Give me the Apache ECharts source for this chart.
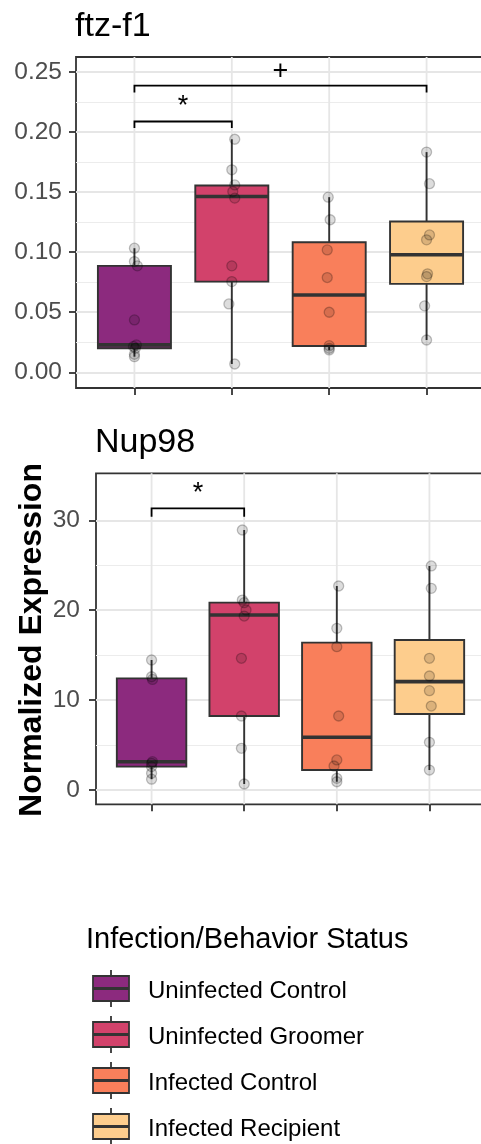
<!DOCTYPE html>
<html>
<head>
<meta charset="utf-8">
<script src="https://cdn.jsdelivr.net/npm/echarts@6/dist/echarts.min.js"></script>
<style>
  html, body { margin: 0; padding: 0; background: #ffffff; }
  #chart { width: 481px; height: 1144px; }
</style>
</head>
<body>
<div id="chart"></div>
<script>
// ---- data ----
const groups = ['Uninfected Control', 'Uninfected Groomer', 'Infected Control', 'Infected Recipient'];
const geneTitles = ['ftz-f1', 'Nup98'];
const yAxisTitle = 'Normalized Expression';
const legendTitle = 'Infection/Behavior Status';

// box statistics per group: [lower whisker, Q1, median, Q3, upper whisker]
const ftzBoxes = [
  [0.0130, 0.0200, 0.0228, 0.0886, 0.1033],
  [0.0069, 0.0755, 0.1463, 0.1555, 0.1940],
  [0.0186, 0.0219, 0.0644, 0.1083, 0.1458],
  [0.0269, 0.0736, 0.0978, 0.1255, 0.1833]
];
const nupBoxes = [
  [1.20, 2.60, 3.15, 12.42, 14.46],
  [0.67, 8.23, 19.47, 20.84, 28.92],
  [0.92, 2.22, 5.86, 16.39, 22.69],
  [2.22, 8.45, 12.05, 16.69, 24.92]
];

// individual samples, [jittered group position, value]
const ftzUninfControl = [[1.00, 0.1033], [1.00, 0.0922], [1.03, 0.0886], [1.00, 0.0436], [1.02, 0.0228], [0.99, 0.0215], [1.01, 0.0200], [1.00, 0.0150], [1.00, 0.0130]];
const ftzUninfGroomer = [[2.03, 0.1940], [2.00, 0.1686], [2.03, 0.1560], [2.01, 0.1505], [2.03, 0.1450], [2.00, 0.0886], [2.00, 0.0755], [1.97, 0.0569], [2.03, 0.0069]];
const ftzInfControl = [[2.99, 0.1458], [3.01, 0.1270], [2.98, 0.1019], [2.98, 0.0789], [3.00, 0.0500], [3.00, 0.0222], [3.00, 0.0200], [3.00, 0.0186]];
const ftzInfRecipient = [[4.00, 0.1833], [4.03, 0.1570], [4.03, 0.1144], [4.00, 0.1103], [4.01, 0.0820], [4.00, 0.0797], [3.98, 0.0553], [4.00, 0.0269]];

const nupUninfControl = [[1.00, 14.46], [1.00, 12.60], [1.01, 12.30], [1.01, 3.15], [1.00, 2.97], [1.00, 2.60], [1.00, 1.86], [1.00, 1.20]];
const nupUninfGroomer = [[1.98, 28.92], [1.98, 21.13], [2.00, 20.84], [2.02, 20.02], [2.00, 19.35], [1.97, 14.65], [1.97, 8.23], [1.97, 4.64], [2.00, 0.67]];
const nupInfControl = [[3.02, 22.69], [3.00, 17.98], [3.00, 15.94], [3.02, 8.23], [3.00, 3.34], [2.97, 2.67], [3.00, 1.30], [3.00, 0.92]];
const nupInfRecipient = [[4.02, 24.92], [4.02, 22.43], [4.00, 14.65], [4.00, 12.68], [4.00, 11.05], [4.02, 9.34], [4.00, 5.30], [4.00, 2.22]];

// y axis ticks
const ftzTicks = [0, 0.05, 0.10, 0.15, 0.20, 0.25];
const ftzTickLabels = ['0.00', '0.05', '0.10', '0.15', '0.20', '0.25'];
const nupTicks = [0, 10, 20, 30];
const nupTickLabels = ['0', '10', '20', '30'];

// significance brackets: [from group, to group, bar value, leg end value]
const ftzBrackets = [[1, 2, 0.2088, 0.2033], [1, 4, 0.2386, 0.2330]];
const ftzBracketLabels = ['*', '+'];
const nupBrackets = [[1, 2, 31.33, 30.40]];
const nupBracketLabels = ['*'];

// ---- styles ----
const groupColors = ['#8C2A7E', '#D2426B', '#F97F5B', '#FDCD8D'];
const FONT = "'Liberation Sans', Arial, sans-serif";
const INK = '#333333';

const panels = [
  {
    title: geneTitles[0], boxes: ftzBoxes,
    points: [ftzUninfControl, ftzUninfGroomer, ftzInfControl, ftzInfRecipient],
    ticks: ftzTicks, tickLabels: ftzTickLabels,
    brackets: ftzBrackets, bracketLabels: ftzBracketLabels,
    frame: { left: 76, top: 57, width: 409, height: 331 },
    plot: { top: 72, height: 300.3 },
    labelMargin: 14, titlePos: [75, 26.5]
  },
  {
    title: geneTitles[1], boxes: nupBoxes,
    points: [nupUninfControl, nupUninfGroomer, nupInfControl, nupInfRecipient],
    ticks: nupTicks, tickLabels: nupTickLabels,
    brackets: nupBrackets, bracketLabels: nupBracketLabels,
    frame: { left: 96, top: 473.3, width: 389, height: 331 },
    plot: { top: 520.3, height: 269.7 },
    labelMargin: 16, titlePos: [95, 443]
  }
];

const grid = [], xAxis = [], yAxis = [], series = [], graphic = [];

panels.forEach((p) => {
  const fIdx = grid.length;       // framed panel (border, x ticks, vertical grid)
  grid.push({
    left: p.frame.left, top: p.frame.top, width: p.frame.width, height: p.frame.height,
    show: true, borderColor: INK, borderWidth: 1.8, backgroundColor: 'transparent',
    containLabel: false, outerBoundsMode: 'none'
  });
  const dIdx = grid.length;       // value region spanning the tick range
  grid.push({
    left: p.frame.left, top: p.plot.top, width: p.frame.width, height: p.plot.height,
    show: false, containLabel: false, outerBoundsMode: 'none'
  });

  xAxis.push({
    gridIndex: fIdx, type: 'value', min: 0.4, max: 4.6,
    axisLine: { show: false },
    axisTick: { show: true, customValues: [1, 2, 3, 4], length: 7, lineStyle: { color: INK, width: 1.8 } },
    axisLabel: { show: false }, splitLine: { show: false }
  });
  yAxis.push({ gridIndex: fIdx, type: 'value', min: 0, max: 1, show: false });

  xAxis.push({ gridIndex: dIdx, type: 'value', min: 0.4, max: 4.6, show: false });
  const step = p.ticks[1] - p.ticks[0];
  yAxis.push({
    gridIndex: dIdx, type: 'value', min: p.ticks[0], max: p.ticks[p.ticks.length - 1], interval: step,
    axisLine: { show: false },
    axisTick: { show: true, length: 7, lineStyle: { color: INK, width: 1.8 } },
    axisLabel: {
      show: true, margin: p.labelMargin, fontSize: 24.5, color: '#4d4d4d', fontFamily: FONT,
      formatter: (v, i) => p.tickLabels[i]
    },
    splitLine: { show: true, lineStyle: { color: '#e6e6e6', width: 1.8 } },
    minorTick: { show: false, splitNumber: 2 },
    minorSplitLine: { show: true, lineStyle: { color: '#ececec', width: 1.1 } }
  });

  // vertical grid lines at group positions
  series.push({
    type: 'custom', xAxisIndex: fIdx, yAxisIndex: fIdx, z: 1, silent: true,
    data: groups.map((g, i) => [i + 1]),
    renderItem: (params, api) => {
      const a = api.coord([api.value(0), 0]);
      const b = api.coord([api.value(0), 1]);
      return { type: 'line', shape: { x1: a[0], y1: a[1], x2: b[0], y2: b[1] },
               style: { stroke: '#e6e6e6', lineWidth: 1.8 } };
    }
  });

  // boxes with whiskers
  series.push({
    type: 'custom', xAxisIndex: dIdx, yAxisIndex: dIdx, z: 2, silent: true,
    data: p.boxes.map((b, i) => [i + 1].concat(b)),
    encode: { x: 0, y: [1, 2, 3, 4, 5] },
    renderItem: (params, api) => {
      const x = api.value(0);
      const lo = api.coord([x, api.value(1)]);
      const q1 = api.coord([x, api.value(2)]);
      const md = api.coord([x, api.value(3)]);
      const q3 = api.coord([x, api.value(4)]);
      const hi = api.coord([x, api.value(5)]);
      const w = api.size([0.75, 0])[0];
      const cx = md[0];
      const ln = { stroke: INK, lineWidth: 1.9 };
      return {
        type: 'group',
        children: [
          { type: 'line', shape: { x1: cx, y1: hi[1], x2: cx, y2: q3[1] }, style: ln },
          { type: 'line', shape: { x1: cx, y1: q1[1], x2: cx, y2: lo[1] }, style: ln },
          { type: 'rect', shape: { x: cx - w / 2, y: q3[1], width: w, height: q1[1] - q3[1] },
            style: { fill: groupColors[params.dataIndex], stroke: INK, lineWidth: 1.9 } },
          { type: 'line', shape: { x1: cx - w / 2, y1: md[1], x2: cx + w / 2, y2: md[1] },
            style: { stroke: INK, lineWidth: 3.6 } }
        ]
      };
    }
  });

  // samples
  p.points.forEach((pts) => {
    series.push({
      type: 'scatter', xAxisIndex: dIdx, yAxisIndex: dIdx, z: 3, silent: true,
      symbol: 'circle', symbolSize: 10,
      itemStyle: { color: 'rgba(0,0,0,0.17)', borderColor: 'rgba(0,0,0,0.30)', borderWidth: 1.3 },
      data: pts
    });
  });

  // significance brackets
  series.push({
    type: 'custom', xAxisIndex: dIdx, yAxisIndex: dIdx, z: 4, silent: true, clip: false,
    data: p.brackets,
    renderItem: (params, api) => {
      const a = api.coord([api.value(0), api.value(2)]);
      const b = api.coord([api.value(1), api.value(2)]);
      const legY = api.coord([api.value(0), api.value(3)])[1];
      return {
        type: 'group',
        children: [
          { type: 'polyline', shape: { points: [[a[0], legY], [a[0], a[1]], [b[0], a[1]], [b[0], legY]] },
            style: { stroke: '#000', lineWidth: 1.8, fill: null } },
          { type: 'text', style: { text: p.bracketLabels[params.dataIndex], x: (a[0] + b[0]) / 2, y: a[1] - 1,
            align: 'center', verticalAlign: 'bottom', fontSize: 27, fontFamily: FONT, fill: '#000' } }
        ]
      };
    }
  });

  // panel title
  graphic.push({
    type: 'text', x: p.titlePos[0], y: p.titlePos[1],
    style: { text: p.title, fontSize: 34, fontFamily: FONT, fill: '#000', align: 'left', verticalAlign: 'middle' }
  });
});

// shared y axis title
graphic.push({
  type: 'text', x: 32, y: 640, rotation: Math.PI / 2,
  style: { text: yAxisTitle, fontSize: 32, fontWeight: 'bold', fontFamily: FONT, fill: '#000',
           align: 'center', verticalAlign: 'middle' }
});

// legend
graphic.push({
  type: 'text', x: 86, y: 940,
  style: { text: legendTitle, fontSize: 29, fontFamily: FONT, fill: '#000', align: 'left', verticalAlign: 'middle' }
});
groups.forEach((g, i) => {
  const cy = 988.5 + 46 * i;
  graphic.push({
    type: 'group', x: 93, y: cy - 12.5,
    children: [
      { type: 'line', shape: { x1: 18, y1: -6, x2: 18, y2: 0 }, style: { stroke: INK, lineWidth: 1.8 } },
      { type: 'line', shape: { x1: 18, y1: 25, x2: 18, y2: 31 }, style: { stroke: INK, lineWidth: 1.8 } },
      { type: 'rect', shape: { x: 0, y: 0, width: 36, height: 25 },
        style: { fill: groupColors[i], stroke: INK, lineWidth: 1.8 } },
      { type: 'line', shape: { x1: 0, y1: 12.5, x2: 36, y2: 12.5 }, style: { stroke: INK, lineWidth: 2.8 } }
    ]
  });
  graphic.push({
    type: 'text', x: 148, y: cy + 3,
    style: { text: g, fontSize: 24, fontFamily: FONT, fill: '#000', align: 'left', verticalAlign: 'middle' }
  });
});

const chart = echarts.init(document.getElementById('chart'), null, { renderer: 'canvas' });
chart.setOption({
  animation: false,
  backgroundColor: '#ffffff',
  grid, xAxis, yAxis, series, graphic
});
</script>
</body>
</html>
